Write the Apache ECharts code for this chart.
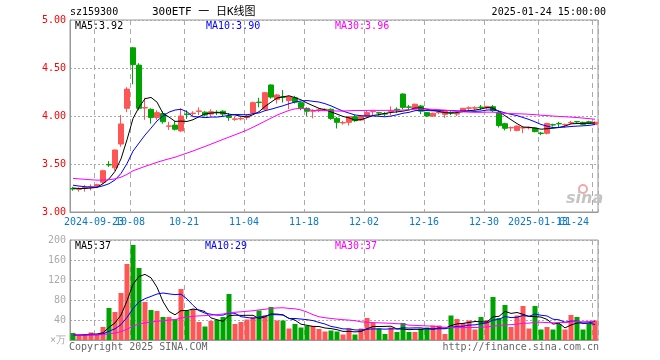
<!DOCTYPE html>
<html><head><meta charset="utf-8">
<script src="https://cdn.jsdelivr.net/npm/echarts@6/dist/echarts.min.js"></script>
<style>html,body{margin:0;padding:0;background:#fff}#c{width:660px;height:360px}</style>
</head><body><div id="c"></div>
<script>
// ---- data ----
const dates = ['2024-09-13','2024-09-18','2024-09-19','2024-09-20','2024-09-23','2024-09-24','2024-09-25','2024-09-26','2024-09-27','2024-09-30',
'2024-10-08','2024-10-09','2024-10-10','2024-10-11','2024-10-14','2024-10-15','2024-10-16','2024-10-17','2024-10-18','2024-10-21',
'2024-10-22','2024-10-23','2024-10-24','2024-10-25','2024-10-28','2024-10-29','2024-10-30','2024-10-31','2024-11-01','2024-11-04',
'2024-11-05','2024-11-06','2024-11-07','2024-11-08','2024-11-11','2024-11-12','2024-11-13','2024-11-14','2024-11-15','2024-11-18',
'2024-11-19','2024-11-20','2024-11-21','2024-11-22','2024-11-25','2024-11-26','2024-11-27','2024-11-28','2024-11-29','2024-12-02',
'2024-12-03','2024-12-04','2024-12-05','2024-12-06','2024-12-09','2024-12-10','2024-12-11','2024-12-12','2024-12-13','2024-12-16',
'2024-12-17','2024-12-18','2024-12-19','2024-12-20','2024-12-23','2024-12-24','2024-12-25','2024-12-26','2024-12-27','2024-12-30',
'2024-12-31','2025-01-02','2025-01-03','2025-01-06','2025-01-07','2025-01-08','2025-01-09','2025-01-10','2025-01-13','2025-01-14',
'2025-01-15','2025-01-16','2025-01-17','2025-01-20','2025-01-21','2025-01-22','2025-01-23','2025-01-24'];

const opens = [3.244,3.236,3.250,3.260,3.268,3.310,3.495,3.460,3.708,4.080,
4.710,4.530,4.083,4.070,3.985,4.025,3.893,3.905,3.845,4.020,
4.025,4.048,4.040,4.020,4.040,4.050,4.000,3.965,3.970,3.985,
4.030,4.145,4.070,4.323,4.174,4.200,4.160,4.190,4.139,4.080,
4.050,4.060,4.065,4.070,3.976,3.928,3.934,3.993,3.958,3.993,
4.045,4.035,4.025,4.045,4.070,4.229,4.095,4.080,4.104,4.035,
4.000,4.035,4.017,4.035,4.020,4.045,4.080,4.082,4.093,4.085,
4.097,4.030,3.920,3.876,3.850,3.875,3.877,3.875,3.822,3.820,
3.910,3.922,3.908,3.928,3.942,3.934,3.940,3.913];
const closes = [3.240,3.240,3.255,3.264,3.285,3.430,3.490,3.646,3.917,4.280,
4.535,4.080,4.088,3.985,4.035,3.940,3.897,3.862,4.000,4.016,
4.030,4.053,4.010,4.045,4.036,4.020,3.985,3.970,3.975,4.000,
4.139,4.140,4.243,4.197,4.219,4.195,4.200,4.145,4.085,4.050,
4.055,4.065,4.070,3.975,3.934,3.932,3.993,3.951,4.000,4.035,
4.050,4.030,4.020,4.050,4.065,4.090,4.090,4.122,4.050,4.000,
4.028,4.040,4.056,4.030,4.025,4.080,4.085,4.087,4.088,4.100,
4.056,3.900,3.872,3.880,3.895,3.880,3.882,3.837,3.818,3.922,
3.906,3.918,3.912,3.933,3.938,3.913,3.924,3.935];
const lows = [3.222,3.212,3.212,3.225,3.255,3.290,3.470,3.430,3.680,4.040,
4.330,4.060,3.960,3.920,3.960,3.920,3.855,3.850,3.835,3.970,
4.000,4.010,3.995,4.000,4.010,4.000,3.950,3.950,3.955,3.960,
4.020,4.090,4.060,4.180,4.130,4.140,4.070,4.130,4.060,4.000,
3.975,4.040,4.050,3.960,3.870,3.910,3.900,3.940,3.950,3.980,
4.010,4.005,4.000,4.010,4.030,4.070,4.060,4.070,4.020,3.990,
3.990,4.020,3.980,4.010,4.000,4.040,4.050,4.060,4.065,4.070,
4.040,3.880,3.850,3.840,3.840,3.820,3.860,3.830,3.800,3.808,
3.890,3.880,3.880,3.915,3.925,3.905,3.915,3.905];
const highs = [3.262,3.257,3.280,3.288,3.295,3.440,3.530,3.650,4.010,4.300,
4.720,4.550,4.190,4.080,4.060,4.050,3.940,3.950,4.080,4.060,
4.050,4.090,4.050,4.070,4.060,4.060,4.030,3.990,3.995,4.020,
4.150,4.190,4.250,4.330,4.230,4.270,4.210,4.210,4.150,4.090,
4.070,4.080,4.080,4.080,3.990,3.950,4.000,4.010,4.010,4.060,
4.060,4.045,4.040,4.100,4.090,4.236,4.115,4.130,4.115,4.040,
4.035,4.060,4.060,4.050,4.040,4.085,4.100,4.100,4.115,4.105,
4.115,4.050,3.930,3.890,3.900,3.890,3.890,3.880,3.835,3.930,
3.920,3.940,3.920,3.950,3.945,3.940,3.950,3.945];
const volumes = [14,9,12,15,10,26,64,56,94,152,
190,144,76,60,58,46,46,42,102,58,
62,36,27,38,40,46,92,32,36,41,
46,59,49,66,39,39,23,32,25,28,
28,22,17,19,17,11,23,11,23,44,
34,23,12,25,16,34,16,16,23,25,
29,29,12,49,42,34,39,21,46,40,
86,44,70,26,49,68,23,68,21,26,
21,32,21,50,46,21,32,39];
// closes / volumes before the first visible day, estimated so the averages start where the picture's lines start
const priorCloses = [3.40,3.39,3.40,3.41,3.40,3.39,3.38,3.39,3.40,3.41,3.40,3.39,3.38,3.37,3.37,3.38,3.36,3.35,3.37,3.38,
3.33,3.32,3.31,3.30,3.28,3.27,3.25,3.24,3.25];
const priorVolumes = [10,11,10,9,10,11,10,10,9,10,11,10,10,9,10,10,11,10,9,10,10,11,10,9,10,9,8,10,8];

const tickDates = ['2024-09-23','2024-10-08','2024-10-21','2024-11-04','2024-11-18','2024-12-02','2024-12-16','2024-12-30','2025-01-13','2025-01-24'];
const tickLabels = ['2024-09-23','10-08','10-21','11-04','11-18','12-02','12-16','12-30','2025-01-13','01-24'];
const priceMaLabels = ['MA5:3.92','MA10:3.90','MA30:3.96'];
const volMaLabels = ['MA5:37','MA10:29','MA30:37'];

// ---- moving averages of the values above ----
function movingAvg(vals, prior, n) {
  const all = prior.concat(vals), off = prior.length, out = [];
  for (let i = 0; i < vals.length; i++) {
    const end = off + i, start = Math.max(0, end - n + 1);
    let s = 0; for (let k = start; k <= end; k++) s += all[k];
    out.push(+(s / (end - start + 1)).toFixed(4));
  }
  return out;
}
const UP = '#ff5555', DOWN = '#00a400';
const MONO = "'DejaVu Sans Mono', monospace";
const kData = dates.map((d, i) => [opens[i], closes[i], lows[i], highs[i]]);
const volData = volumes.map((v, i) => ({ value: v, itemStyle: { color: closes[i] >= opens[i] ? UP : DOWN } }));
const tickIdx = tickDates.map(d => dates.indexOf(d));

const chart = echarts.init(document.getElementById('c'), null, { renderer: 'canvas' });
function xAxisBase(gi, withLabels) {
  return {
    type: 'category', gridIndex: gi, data: dates, boundaryGap: true,
    axisLine: { show: true, lineStyle: { color: '#999' } },
    axisTick: { show: false },
    axisLabel: withLabels ? {
      interval: 0,
      formatter: (v, i) => { const k = tickIdx.indexOf(i); return k >= 0 ? tickLabels[k] : ''; },
      color: '#0a78c8', fontFamily: MONO, fontSize: 10, margin: 5,
      padding: [0, 6, 0, 0], alignMaxLabel: 'right', hideOverlap: false
    } : { show: false },
    splitLine: { show: true, interval: (i) => tickIdx.includes(i), lineStyle: { color: '#aaa', type: [5, 4], width: 1 } }
  };
}
const txt = (x, y, text, fill, opts = {}) => ({
  type: 'text', silent: true, z: 100,
  style: Object.assign({ x, y, text, fill, font: '10px ' + MONO, textAlign: 'left', textVerticalAlign: 'middle', align: 'left', verticalAlign: 'middle' }, opts)
});
const line = (gi, data, color) => ({
  type: 'line', xAxisIndex: gi, yAxisIndex: gi, data, symbol: 'none', smooth: false,
  lineStyle: { color, width: 1 }, silent: true, z: 5
});

chart.setOption({
  animation: false,
  backgroundColor: '#fff',
  grid: [
    { left: 70, right: 62, top: 20, height: 192, show: true, borderColor: '#999', borderWidth: 1 },
    { left: 70, right: 62, top: 240, height: 100, show: true, borderColor: '#999', borderWidth: 1 }
  ],
  xAxis: [xAxisBase(0, true), xAxisBase(1, false)],
  yAxis: [
    { type: 'value', gridIndex: 0, min: 3, max: 5, interval: 0.5,
      axisLine: { show: true, lineStyle: { color: '#999' } }, axisTick: { show: false },
      axisLabel: { color: '#ff0000', fontFamily: MONO, fontSize: 10, margin: 4, formatter: v => v.toFixed(2) },
      splitLine: { show: true, lineStyle: { color: '#aaa', type: [2, 2] } } },
    { type: 'value', gridIndex: 1, min: 0, max: 200, interval: 40,
      axisLine: { show: true, lineStyle: { color: '#999' } }, axisTick: { show: false },
      axisLabel: { color: '#aaa', fontFamily: MONO, fontSize: 10, margin: 4, formatter: v => v === 0 ? '×万' : String(v) },
      splitLine: { show: true, lineStyle: { color: '#aaa', type: [2, 2] } } }
  ],
  series: [
    { type: 'candlestick', xAxisIndex: 0, yAxisIndex: 0, data: kData, barWidth: 5,
      itemStyle: { color: UP, color0: DOWN, borderColor: UP, borderColor0: DOWN, borderWidth: 1 }, z: 3 },
    line(0, movingAvg(closes, priorCloses, 5), '#000000'),
    line(0, movingAvg(closes, priorCloses, 10), '#0000ff'),
    line(0, movingAvg(closes, priorCloses, 30), '#ff00ff'),
    { type: 'bar', xAxisIndex: 1, yAxisIndex: 1, data: volData, barWidth: 5, z: 3 },
    line(1, movingAvg(volumes, priorVolumes, 5), '#000000'),
    line(1, movingAvg(volumes, priorVolumes, 10), '#0000ff'),
    line(1, movingAvg(volumes, priorVolumes, 30), '#ff00ff')
  ],
  graphic: [
    txt(70, 12, 'sz159300', '#000'),
    txt(152, 12, '300ETF 一 日K线图', '#000', { font: "11px 'DejaVu Sans Mono', 'Noto Sans CJK SC', monospace" }),
    txt(606, 12, '2025-01-24 15:00:00', '#000', { textAlign: 'right', align: 'right' }),
    txt(75, 26, priceMaLabels[0], '#000'),
    txt(206, 26, priceMaLabels[1], '#0000ff'),
    txt(335, 26, priceMaLabels[2], '#ff00ff'),
    txt(75, 246, volMaLabels[0], '#000'),
    txt(205, 246, volMaLabels[1], '#0000ff'),
    txt(335, 246, volMaLabels[2], '#ff00ff'),
    txt(69, 347, 'Copyright 2025 SINA.COM', '#666'),
    txt(599, 347, 'http://finance.sina.com.cn', '#666', { textAlign: 'right', align: 'right' }),
    { type: 'circle', silent: true, z: 90, shape: { cx: 583, cy: 189, r: 4 }, style: { fill: 'none', stroke: '#f0a8a8', lineWidth: 2 } },
    txt(566, 199, 'sina', '#c4c4c4', { font: "italic bold 16px 'DejaVu Sans', sans-serif" })
  ]
});
</script></body></html>
